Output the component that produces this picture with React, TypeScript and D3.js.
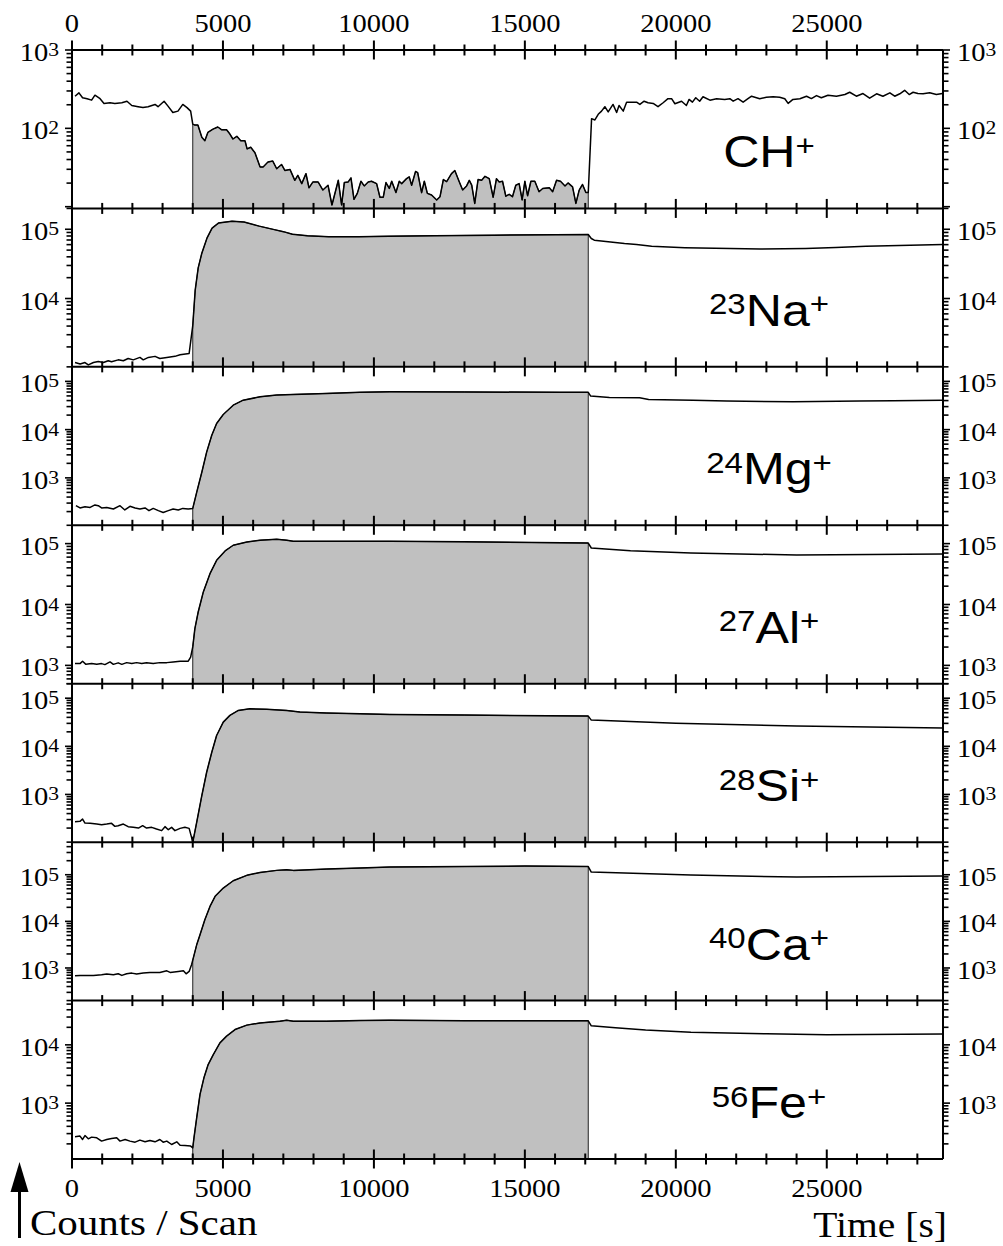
import React from 'react';
import * as d3 from 'd3';

const WIDTH = 1003;
const HEIGHT = 1246;
const PLOT_LEFT = 72;
const PLOT_RIGHT = 943;
const PLOT_TOP = 50;
const PLOT_BOTTOM = 1159;
const TIME_MAX = 28850;
const SHADE_FROM = 4000;
const SHADE_TO = 17100;
const SX = 1.14;

const xTickLabels = [0, 5000, 10000, 15000, 20000, 25000];
const xMinorStep = 1000;

// CH+
const chTime = [100,230,350,500,650,760,930,1060,1260,1420,1650,1820,1980,2190,2350,2520,2750,2850,3050,3180,3340,3510,3670,3810,3930,4000,4070,4170,4300,4400,4500,4670,4830,4960,5120,5230,5330,5460,5590,5730,5800,5920,6060,6230,6330,6490,6650,6780,6940,7050,7220,7380,7480,7610,7750,7850,7980,8150,8310,8480,8610,8820,8930,9020,9150,9240,9340,9450,9570,9680,9810,9920,10090,10200,10310,10400,10510,10590,10730,10840,10920,11080,11170,11250,11380,11450,11580,11670,11770,11910,12080,12190,12300,12410,12570,12680,12820,12940,13070,13160,13240,13340,13450,13570,13680,13820,13950,14060,14150,14260,14370,14480,14590,14700,14810,14910,15000,15090,15200,15330,15470,15590,15810,15920,16050,16180,16330,16430,16580,16690,16800,16910,17020,17100,17210,17320,17430,17540,17650,17760,17920,18040,18120,18260,18370,18590,18700,18810,18950,19080,19250,19410,19580,19740,19860,19970,20190,20350,20440,20550,20660,20790,20900,21130,21350,21620,21790,21900,22060,22230,22390,22510,22780,23000,23220,23440,23610,23720,23880,24110,24330,24490,24660,24820,25040,25320,25600,25760,25980,26200,26420,26650,26860,27090,27250,27420,27580,27730,27860,28020,28190,28410,28630,28830];
const chCounts = [257,284,246,239,229,265,239,208,212,208,212,222,196,189,184,189,202,189,222,192,159,166,202,184,166,113,110,110,76.8,69.5,88.7,97.7,104,95.8,95.8,84.5,73.1,79.1,69.5,69.5,54.6,57.4,48.7,32.1,32.1,37.1,38.2,30.5,34.6,29.0,29.9,21.7,25.1,19.7,26.4,17.4,20.7,20.7,16.3,18.8,10.5,21.7,10.5,20.3,20.7,23.3,12.4,14.8,21.1,18.4,20.7,21.1,19.7,13.2,13.2,20.3,17.1,21.1,15.2,21.1,19.7,22.8,24.0,18.8,28.2,27.2,15.1,21.1,14.8,14.1,12.2,13.4,22.2,20.9,26.4,29.0,21.1,16.3,18.4,21.7,18.8,11.0,22.2,21.7,24.4,22.8,13.2,22.8,20.7,21.1,13.6,14.4,13.4,18.8,19.7,12.2,21.1,13.8,21.1,21.1,15.5,17.1,17.4,15.5,21.7,21.1,18.4,20.1,17.9,11.0,16.3,19.2,15.2,15.2,133,128,151,166,189,162,202,159,196,166,216,216,216,202,222,212,208,189,212,239,239,206,222,196,234,216,246,222,253,229,239,234,239,222,239,216,239,257,239,250,253,250,239,208,234,239,257,240,262,246,265,257,270,289,257,278,243,276,257,284,257,276,306,270,289,278,276,284,270,278];

// 23Na+
const naTime = [100,270,430,540,710,870,1040,1200,1310,1530,1700,1860,2030,2250,2360,2530,2750,2910,3140,3410,3580,3880,4000,4080,4180,4300,4470,4640,4850,5300,5700,6200,6700,7000,7300,7800,8500,9500,10500,12000,14000,16000,17100,17200,17300,18300,18700,19200,20300,21300,22800,24300,25300,26300,28850];
const naCounts = [1190,1130,1190,1100,1190,1230,1190,1260,1220,1300,1260,1360,1300,1410,1300,1410,1460,1360,1410,1460,1540,1610,4060,13100,27700,45100,74300,104000,123000,131000,127000,111000,98800,92400,85000,80300,78200,78200,79400,80900,82200,83600,84100,73600,69500,62300,60200,57000,54300,53000,51800,52700,54500,56900,60200];

// 24Mg+
const mgTime = [130,265,430,600,760,870,980,1150,1370,1590,1750,1920,2090,2250,2420,2550,2690,2860,3020,3190,3350,3520,3670,3850,4000,4130,4300,4460,4630,4790,5010,5340,5670,6230,6780,7330,8430,9540,10530,13000,16160,17100,17180,17800,18800,19100,20570,21680,23880,26090,27190,28850];
const mgCounts = [265,238,253,244,275,265,238,244,226,265,216,257,238,226,238,209,233,209,192,209,226,216,233,226,233,502,1310,3420,7620,13400,20600,32100,40800,47900,52000,53700,56400,59200,60800,60500,59200,59200,49500,46600,45700,42300,40800,39000,37700,39000,39500,40800];

// 27Al+
const alTime = [100,265,350,460,650,820,980,1090,1260,1370,1530,1650,1810,1980,2140,2310,2470,2690,2910,3140,3350,3580,3850,3930,4000,4070,4180,4350,4570,4790,5070,5340,5790,6230,6780,7110,7330,8430,10530,13000,17100,17200,18500,20500,24000,28850];
const alCounts = [1070,1070,1170,1040,1070,1040,1070,1030,1140,1040,1100,1040,1110,1070,1110,1070,1100,1070,1110,1110,1140,1170,1170,1370,2010,4010,7530,16100,32100,53200,75700,94000,106000,114000,118000,114000,109000,109000,109000,107000,102000,84700,76000,70200,65000,67600];

// 28Si+
const siTime = [100,265,350,430,600,820,980,1150,1310,1420,1530,1700,1860,2030,2200,2340,2470,2640,2800,2970,3080,3190,3300,3410,3580,3740,3880,3960,4000,4130,4300,4460,4630,4790,5010,5230,5510,5890,6450,7110,7550,8430,9540,10530,13000,17100,17200,20000,24000,28850];
const siCounts = [272,276,308,254,251,242,235,242,251,217,224,242,214,207,200,224,200,207,191,177,214,185,207,177,197,207,197,128,101,263,946,2890,7550,16800,31800,44000,55800,60300,58600,55800,51400,49100,47400,46000,44500,42500,35100,30300,26300,23900];

// 40Ca+
const caTime = [100,265,490,710,980,1150,1370,1530,1650,1810,1980,2140,2360,2580,2910,3140,3250,3520,3690,3780,3880,3960,4000,4130,4240,4400,4570,4740,5010,5340,5790,6230,6780,7110,7330,8430,9540,10530,13000,15000,17100,17200,20500,24000,28850];
const caCounts = [679,693,693,693,714,740,714,750,693,750,776,740,776,803,803,869,803,843,869,750,843,1170,1470,3140,5150,10800,20900,34400,51800,74300,97000,112000,124000,128000,124000,132000,139000,146000,150000,153000,150000,114000,98400,89100,93700];

// 56Fe+
const feTime = [100,265,350,430,540,650,820,980,1150,1310,1480,1590,1760,1920,2090,2250,2420,2580,2750,2910,3020,3140,3300,3470,3580,3740,3930,4000,4040,4130,4240,4370,4510,4680,4900,5120,5400,5790,6230,6890,7110,7330,8430,9540,10530,13000,17100,17200,18000,19000,20500,23000,25000,28850];
const feCounts = [264,272,238,278,244,261,254,223,238,247,254,223,238,223,214,232,217,228,217,238,214,223,195,217,190,187,183,171,254,560,1410,2720,4590,6820,10800,14100,18300,21800,23800,25500,26500,25500,25500,26100,26500,26000,25800,21200,19600,17900,16400,15500,14900,15300];

const panelIsotopes = ['', '23', '24', '27', '28', '40', '56'];
const panelElements = ['CH', 'Na', 'Mg', 'Al', 'Si', 'Ca', 'Fe'];
const panelDomains: [number, number][] = [
  [9.5, 1000],
  [1030, 200000],
  [104, 200000],
  [500, 200000],
  [102, 200000],
  [200, 500000],
  [110, 57500],
];
const panelTimes = [chTime, naTime, mgTime, alTime, siTime, caTime, feTime];
const panelCounts = [chCounts, naCounts, mgCounts, alCounts, siCounts, caCounts, feCounts];

const serif = "'Liberation Serif','Times New Roman',serif";
const sans = "'Liberation Sans',Arial,sans-serif";

function logTicks(domain: [number, number]) {
  const [a, b] = domain;
  const out: { v: number; major: boolean }[] = [];
  for (let e = Math.floor(Math.log10(a)); e <= Math.ceil(Math.log10(b)); e++) {
    for (let k = 1; k <= 9; k++) {
      const v = k * Math.pow(10, e);
      if (v >= a * (1 - 1e-9) && v <= b * (1 + 1e-9)) out.push({ v, major: k === 1 });
    }
  }
  return out;
}

function SText(props: { x: number; y: number; anchor?: string; size: number; family: string; sx?: number; children: React.ReactNode }) {
  return (
    <text
      transform={`translate(${props.x},${props.y}) scale(${props.sx ?? SX},1)`}
      textAnchor={props.anchor || 'start'}
      fontSize={props.size}
      fontFamily={props.family}
      fill="#000"
    >
      {props.children}
    </text>
  );
}

export default function App() {
  const x = d3.scaleLinear().domain([0, TIME_MAX]).range([PLOT_LEFT, PLOT_RIGHT]);
  const n = panelElements.length;
  const ph = (PLOT_BOTTOM - PLOT_TOP) / n;
  const boundaries = d3.range(n + 1).map((i) => PLOT_TOP + i * ph);
  const xTicksAll = d3.range(0, TIME_MAX + 1, xMinorStep);

  return (
    <svg width={WIDTH} height={HEIGHT} viewBox={`0 0 ${WIDTH} ${HEIGHT}`} style={{ display: 'block', position: 'absolute', left: 0, top: 0, background: '#fff' }}>
      <rect x={0} y={0} width={WIDTH} height={HEIGHT} fill="#fff" />
      <defs>
        {panelElements.map((_, i) => (
          <clipPath id={`clip${i}`} key={i}>
            <rect x={PLOT_LEFT} y={boundaries[i]} width={PLOT_RIGHT - PLOT_LEFT} height={ph} />
          </clipPath>
        ))}
      </defs>
      {panelElements.map((el, i) => {
        const y0 = boundaries[i];
        const y1 = boundaries[i + 1];
        const y = d3.scaleLog().domain(panelDomains[i]).range([y1, y0]);
        const pts = panelTimes[i].map((t, j) => [t, panelCounts[i][j]] as [number, number]);
        const shaded = pts.filter((p) => p[0] >= SHADE_FROM && p[0] <= SHADE_TO);
        const line = d3.line<[number, number]>().x((p) => x(p[0])).y((p) => y(p[1]));
        const area = d3.area<[number, number]>().x((p) => x(p[0])).y0(y1).y1((p) => y(p[1]));
        const ticks = logTicks(panelDomains[i]);
        const labelled = ticks.filter((tk) => tk.major && y(tk.v) < y1 - 3);
        return (
          <g key={el}>
            <g clipPath={`url(#clip${i})`}>
              <path d={area(shaded) || ''} fill="#c0c0c0" stroke="#222" strokeWidth={1} />
              <path d={line(pts) || ''} fill="none" stroke="#000" strokeWidth={1.5} strokeLinejoin="round" />
            </g>
            {ticks.map((tk, k) => (
              <g key={k}>
                <line x1={PLOT_LEFT - (tk.major ? 7 : 5.5)} x2={PLOT_LEFT} y1={y(tk.v)} y2={y(tk.v)} stroke="#000" strokeWidth={1.6} />
                <line x1={PLOT_RIGHT} x2={PLOT_RIGHT + (tk.major ? 7 : 5.5)} y1={y(tk.v)} y2={y(tk.v)} stroke="#000" strokeWidth={1.6} />
              </g>
            ))}
            {labelled.map((tk, k) => {
              const e = Math.round(Math.log10(tk.v));
              const ty = y(tk.v) + 11;
              return (
                <g key={`l${k}`}>
                  <SText x={59} y={ty} anchor="end" size={25} family={serif}>
                    10<tspan fontSize={19} dy={-5}>{e}</tspan>
                  </SText>
                  <SText x={957} y={ty} anchor="start" size={25} family={serif}>
                    10<tspan fontSize={19} dy={-5}>{e}</tspan>
                  </SText>
                </g>
              );
            })}
            <SText x={769} y={y1 - 41} anchor="middle" size={44} family={sans}>
              {panelIsotopes[i] ? <tspan fontSize={29} dy={-11.5}>{panelIsotopes[i]}</tspan> : null}
              <tspan dy={panelIsotopes[i] ? 11.5 : 0}>{el}</tspan>
              <tspan fontSize={29} dy={-11.5}>+</tspan>
            </SText>
          </g>
        );
      })}
      {boundaries.map((by, i) => (
        <g key={`b${i}`}>
          <line x1={PLOT_LEFT} x2={PLOT_RIGHT} y1={by} y2={by} stroke="#000" strokeWidth={2} />
          {xTicksAll.map((t) => {
            const major = t % 5000 === 0;
            const len = major ? 9.5 : 5.5;
            return <line key={t} x1={x(t)} x2={x(t)} y1={by - len} y2={by + len} stroke="#000" strokeWidth={2} />;
          })}
        </g>
      ))}
      <line x1={PLOT_LEFT} x2={PLOT_LEFT} y1={PLOT_TOP} y2={PLOT_BOTTOM} stroke="#000" strokeWidth={2} />
      <line x1={PLOT_RIGHT} x2={PLOT_RIGHT} y1={PLOT_TOP} y2={PLOT_BOTTOM} stroke="#000" strokeWidth={2} />
      {xTickLabels.map((t) => (
        <g key={`xl${t}`}>
          <SText x={x(t)} y={31.5} anchor="middle" size={25} family={serif}>{t}</SText>
          <SText x={x(t)} y={1196.5} anchor="middle" size={25} family={serif}>{t}</SText>
        </g>
      ))}
      <line x1={19.5} x2={19.5} y1={1188} y2={1238} stroke="#000" strokeWidth={3} />
      <polygon points="19.5,1162 10.5,1192 28.5,1192" fill="#000" />
      <SText x={30} y={1235} anchor="start" size={35} sx={1.17} family={serif}>Counts / Scan</SText>
      <SText x={947} y={1236.5} anchor="end" size={35} sx={1.13} family={serif}>Time [s]</SText>
    </svg>
  );
}
